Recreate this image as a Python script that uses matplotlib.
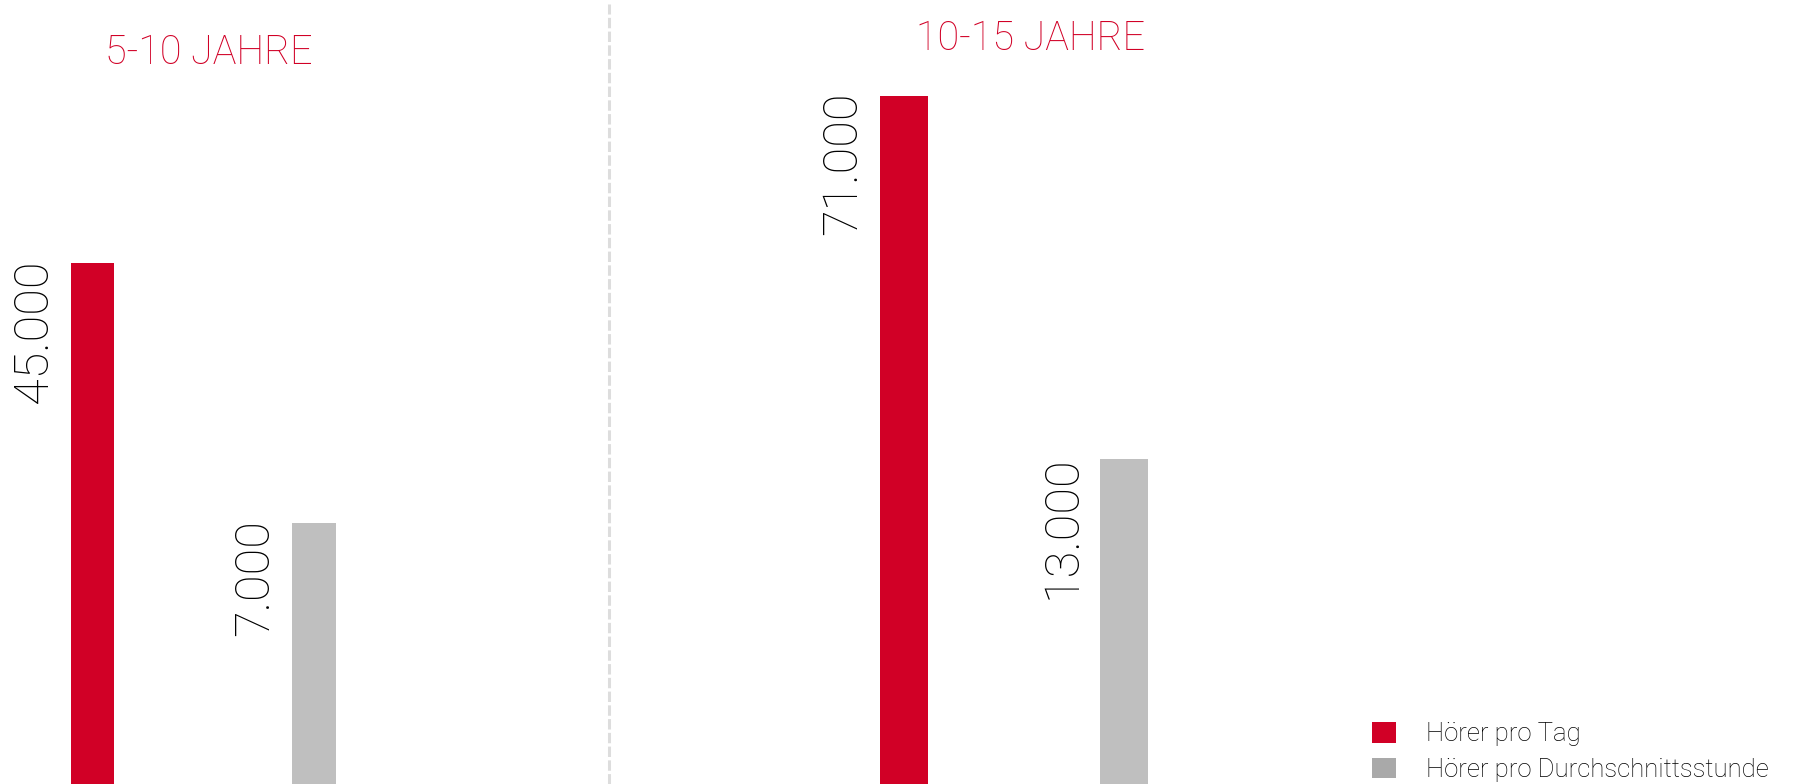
import matplotlib
matplotlib.use("Agg")
import matplotlib.pyplot as plt
from matplotlib.lines import Line2D
from matplotlib.patches import Patch

# data (values in thousands)
groups = ["5-10 JAHRE", "10-15 JAHRE"]
series = ["Hörer pro Tag", "Hörer pro Durchschnittsstunde"]
per_day = [45, 71]
per_hour = [7, 13]
labels_day = ["45.000", "71.000"]
labels_hour = ["7.000", "13.000"]

RED = "#d10026"
GRAY = "#bfbfbf"
GRAY_LEG = "#a9a9a9"

plt.rcParams["font.family"] = ["Roboto", "DejaVu Sans"]

W, H = 1800, 784
fig = plt.figure(figsize=(W / 100, H / 100), dpi=100)

split = 609 / W
# per panel: axes rect, xlim, ylim (axis floor sits below zero, like the original)
panels = [
    dict(rect=[0, 0, split, 1], xlim=(-0.4167, 2.327), ylim=(-31.1, 83.5), bw=0.198,
         title_x=209 / W, title_y=1 - 53 / H),
    dict(rect=[split, 0, 1 - split, 1], xlim=(-1.341, 4.073), ylim=(-38.9, 86.3), bw=0.218,
         title_x=1030 / W, title_y=1 - 39 / H),
]

for i, p in enumerate(panels):
    ax = fig.add_axes(p["rect"])
    ax.set_xlim(*p["xlim"])
    ax.set_ylim(*p["ylim"])
    ax.axis("off")
    floor = p["ylim"][0]
    bw = p["bw"]
    vals = [per_day[i], per_hour[i]]
    labs = [labels_day[i], labels_hour[i]]
    cols = [RED, GRAY]
    for j, (v, lab, c) in enumerate(zip(vals, labs, cols)):
        ax.bar(j, v - floor, bottom=floor, width=bw, color=c, linewidth=0)
        ax.annotate(lab, xy=(j - bw / 2, v), xytext=(-14, 4), textcoords="offset pixels",
                    rotation=90, ha="right", va="top", fontsize=35, fontweight="light",
                    color="black")
    fig.text(p["title_x"], p["title_y"], groups[i], ha="center", va="center",
             fontsize=28.5, fontweight="light", color=RED)

# dashed separator
fig.add_artist(Line2D([split, split], [0, 1 - 4 / H], transform=fig.transFigure,
                      color="#dddddd", linewidth=2.2, linestyle=(0, (3.4, 1.1))))

handles = [Patch(color=RED, linewidth=0), Patch(color=GRAY_LEG, linewidth=0)]
fig.legend(handles, series, loc="lower left", bbox_to_anchor=(1372 / W, 2 / H),
           frameon=False, handlelength=0.93, handleheight=0.85,
           handletextpad=1.17, labelspacing=0.45, borderpad=0, borderaxespad=0,
           prop={"weight": "light", "size": 18.5})

fig.savefig("out.png", dpi=100)
